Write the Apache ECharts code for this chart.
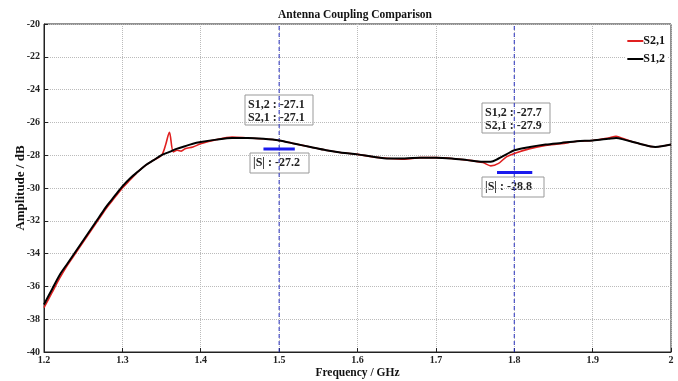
<!DOCTYPE html>
<html>
<head>
<meta charset="utf-8">
<script src="https://cdn.jsdelivr.net/npm/echarts@6/dist/echarts.min.js"></script>
<style>
  html, body { margin: 0; padding: 0; background: #fff; }
  #chart { width: 678px; height: 381px; }
</style>
</head>
<body>
<div id="chart"></div>
<script>
// S1,2 (black)
var freqS12 = [1.20, 1.21, 1.22, 1.23, 1.24, 1.25, 1.26, 1.27, 1.28, 1.29, 1.30, 1.31, 1.32, 1.33, 1.34, 1.35, 1.36, 1.37, 1.38, 1.39, 1.40, 1.42, 1.44, 1.46, 1.48, 1.50, 1.52, 1.54, 1.56, 1.58, 1.60, 1.62, 1.64, 1.66, 1.68, 1.70, 1.72, 1.74, 1.76, 1.77, 1.78, 1.79, 1.80, 1.82, 1.84, 1.86, 1.88, 1.90, 1.92, 1.93, 1.94, 1.96, 1.98, 2.00]
var valS12 = [-37.1, -36.2, -35.3, -34.6, -33.9, -33.2, -32.5, -31.8, -31.1, -30.5, -29.9, -29.4, -29.0, -28.6, -28.3, -28.0, -27.8, -27.6, -27.45, -27.3, -27.2, -27.05, -26.95, -26.95, -27.0, -27.1, -27.3, -27.5, -27.7, -27.85, -27.95, -28.1, -28.2, -28.2, -28.15, -28.15, -28.2, -28.3, -28.4, -28.4, -28.2, -27.95, -27.7, -27.5, -27.35, -27.25, -27.15, -27.1, -27.0, -26.95, -27.05, -27.3, -27.5, -27.35]

// S2,1 (red)
var freqS21 = [1.20, 1.21, 1.22, 1.23, 1.24, 1.25, 1.26, 1.27, 1.28, 1.29, 1.30, 1.31, 1.32, 1.33, 1.34, 1.35, 1.355, 1.36, 1.365, 1.37, 1.375, 1.38, 1.39, 1.40, 1.42, 1.44, 1.46, 1.48, 1.50, 1.52, 1.54, 1.56, 1.58, 1.60, 1.62, 1.64, 1.66, 1.68, 1.70, 1.72, 1.74, 1.76, 1.77, 1.78, 1.79, 1.80, 1.82, 1.84, 1.86, 1.88, 1.90, 1.92, 1.93, 1.94, 1.96, 1.98, 2.00]
var valS21 = [-37.3, -36.4, -35.5, -34.7, -34.0, -33.3, -32.6, -31.9, -31.2, -30.6, -30.0, -29.5, -29.0, -28.6, -28.3, -28.0, -27.4, -26.6, -27.8, -27.7, -27.75, -27.6, -27.5, -27.3, -27.05, -26.9, -26.95, -27.0, -27.1, -27.3, -27.5, -27.7, -27.85, -27.95, -28.1, -28.2, -28.25, -28.15, -28.15, -28.2, -28.3, -28.45, -28.65, -28.5, -28.1, -27.9, -27.6, -27.4, -27.3, -27.15, -27.1, -26.95, -26.85, -27.0, -27.3, -27.5, -27.35]

// marker frequencies and |S| bars
var markerFreqs = [1.5, 1.8]
var barA = [[1.48, -27.62], [1.52, -27.62]]
var barB = [[1.778, -29.05], [1.823, -29.05]]

var xTicks = ['1.2', '1.3', '1.4', '1.5', '1.6', '1.7', '1.8', '1.9', '2']

function pairs (xs, ys) {
  return xs.map(function (x, i) { return [x, ys[i]] })
}

var serif = 'Liberation Serif'
var chart = echarts.init(document.getElementById('chart'))

function box (x, y, w, h, lines) {
  return {
    type: 'group',
    x: x,
    y: y,
    children: [{
      type: 'rect',
      shape: { x: 0, y: 0, width: w, height: h },
      style: { fill: 'none', stroke: '#999', lineWidth: 1 }
    }, {
      type: 'text',
      x: 3,
      y: 3,
      style: {
        text: lines.join('\n'),
        font: 'bold 12px "Liberation Serif"',
        fill: '#222',
        lineHeight: 13
      }
    }]
  }
}

// vertical dashed marker lines, one series each
var markerSeries = markerFreqs.map(function (f) {
  return {
    name: 'marker ' + f,
    type: 'line',
    data: [[f, -40], [f, -20]],
    showSymbol: false,
    silent: true,
    lineStyle: { color: '#2a32c0', type: [4, 3], width: 1 }
  }
})

chart.setOption({
  animation: false,
  title: {
    text: 'Antenna Coupling Comparison',
    left: 273,
    top: 4,
    textStyle: { fontFamily: serif, fontWeight: 'bold', fontSize: 11.5, color: '#111' }
  },
  legend: {
    data: ['S2,1', 'S1,2'],
    orient: 'vertical',
    right: 11,
    top: 33,
    icon: 'rect',
    itemWidth: 16,
    itemHeight: 2,
    itemGap: 6,
    backgroundColor: '#fff',
    padding: [2, 2, 2, 2],
    textStyle: { fontFamily: serif, fontWeight: 'bold', fontSize: 12, color: '#111', padding: [0, 0, 0, -5] }
  },
  grid: {
    left: 44,
    right: 7,
    top: 24,
    bottom: 29,
    outerBoundsMode: 'none',
    show: true,
    borderColor: '#222',
    borderWidth: 1
  },
  xAxis: {
    type: 'value',
    min: 1.2,
    max: 2,
    interval: 0.1,
    name: 'Frequency / GHz',
    nameLocation: 'middle',
    nameGap: 15,
    nameMoveOverlap: false,
    nameTextStyle: { fontFamily: serif, fontWeight: 'bold', fontSize: 11.5, color: '#111' },
    axisLine: { lineStyle: { color: '#222' } },
    axisTick: { inside: true, length: 4, lineStyle: { color: '#222' } },
    axisLabel: {
      margin: 3,
      fontFamily: serif,
      fontWeight: 'bold',
      fontSize: 10,
      color: '#222',
      formatter: function (v) { return xTicks[Math.round((v - 1.2) * 10)] }
    },
    splitLine: { lineStyle: { color: '#bbb', type: 'dotted' } }
  },
  yAxis: {
    type: 'value',
    min: -40,
    max: -20,
    interval: 2,
    name: 'Amplitude / dB',
    nameLocation: 'middle',
    nameRotate: 90,
    nameGap: 17,
    nameMoveOverlap: false,
    nameTextStyle: { fontFamily: serif, fontWeight: 'bold', fontSize: 13, color: '#111' },
    axisLine: { show: true, lineStyle: { color: '#222' } },
    axisTick: { show: true, inside: true, length: 4, lineStyle: { color: '#222' } },
    axisLabel: { margin: 4, fontFamily: serif, fontWeight: 'bold', fontSize: 10, color: '#222' },
    splitLine: { lineStyle: { color: '#bbb', type: 'dotted' } }
  },
  series: markerSeries.concat([{
    name: 'S2,1',
    type: 'line',
    data: pairs(freqS21, valS21),
    smooth: 0.3,
    showSymbol: false,
    lineStyle: { color: '#e02020', width: 1.6 },
    itemStyle: { color: '#e02020' }
  }, {
    name: 'S1,2',
    type: 'line',
    data: pairs(freqS12, valS12),
    smooth: 0.3,
    showSymbol: false,
    lineStyle: { color: '#000', width: 2 },
    itemStyle: { color: '#000' }
  }, {
    name: 'barA',
    type: 'line',
    data: barA,
    showSymbol: false,
    lineStyle: { color: '#1a1aee', width: 3 }
  }, {
    name: 'barB',
    type: 'line',
    data: barB,
    showSymbol: false,
    lineStyle: { color: '#1a1aee', width: 3 }
  }]),
  graphic: [
    box(245, 95, 68, 30, ['S1,2 : -27.1', 'S2,1 : -27.1']),
    box(250, 153, 59, 20, ['|S| : -27.2']),
    box(482, 103, 68, 30, ['S1,2 : -27.7', 'S2,1 : -27.9']),
    box(482, 177, 62, 20, ['|S| : -28.8'])
  ]
})
</script>
</body>
</html>
